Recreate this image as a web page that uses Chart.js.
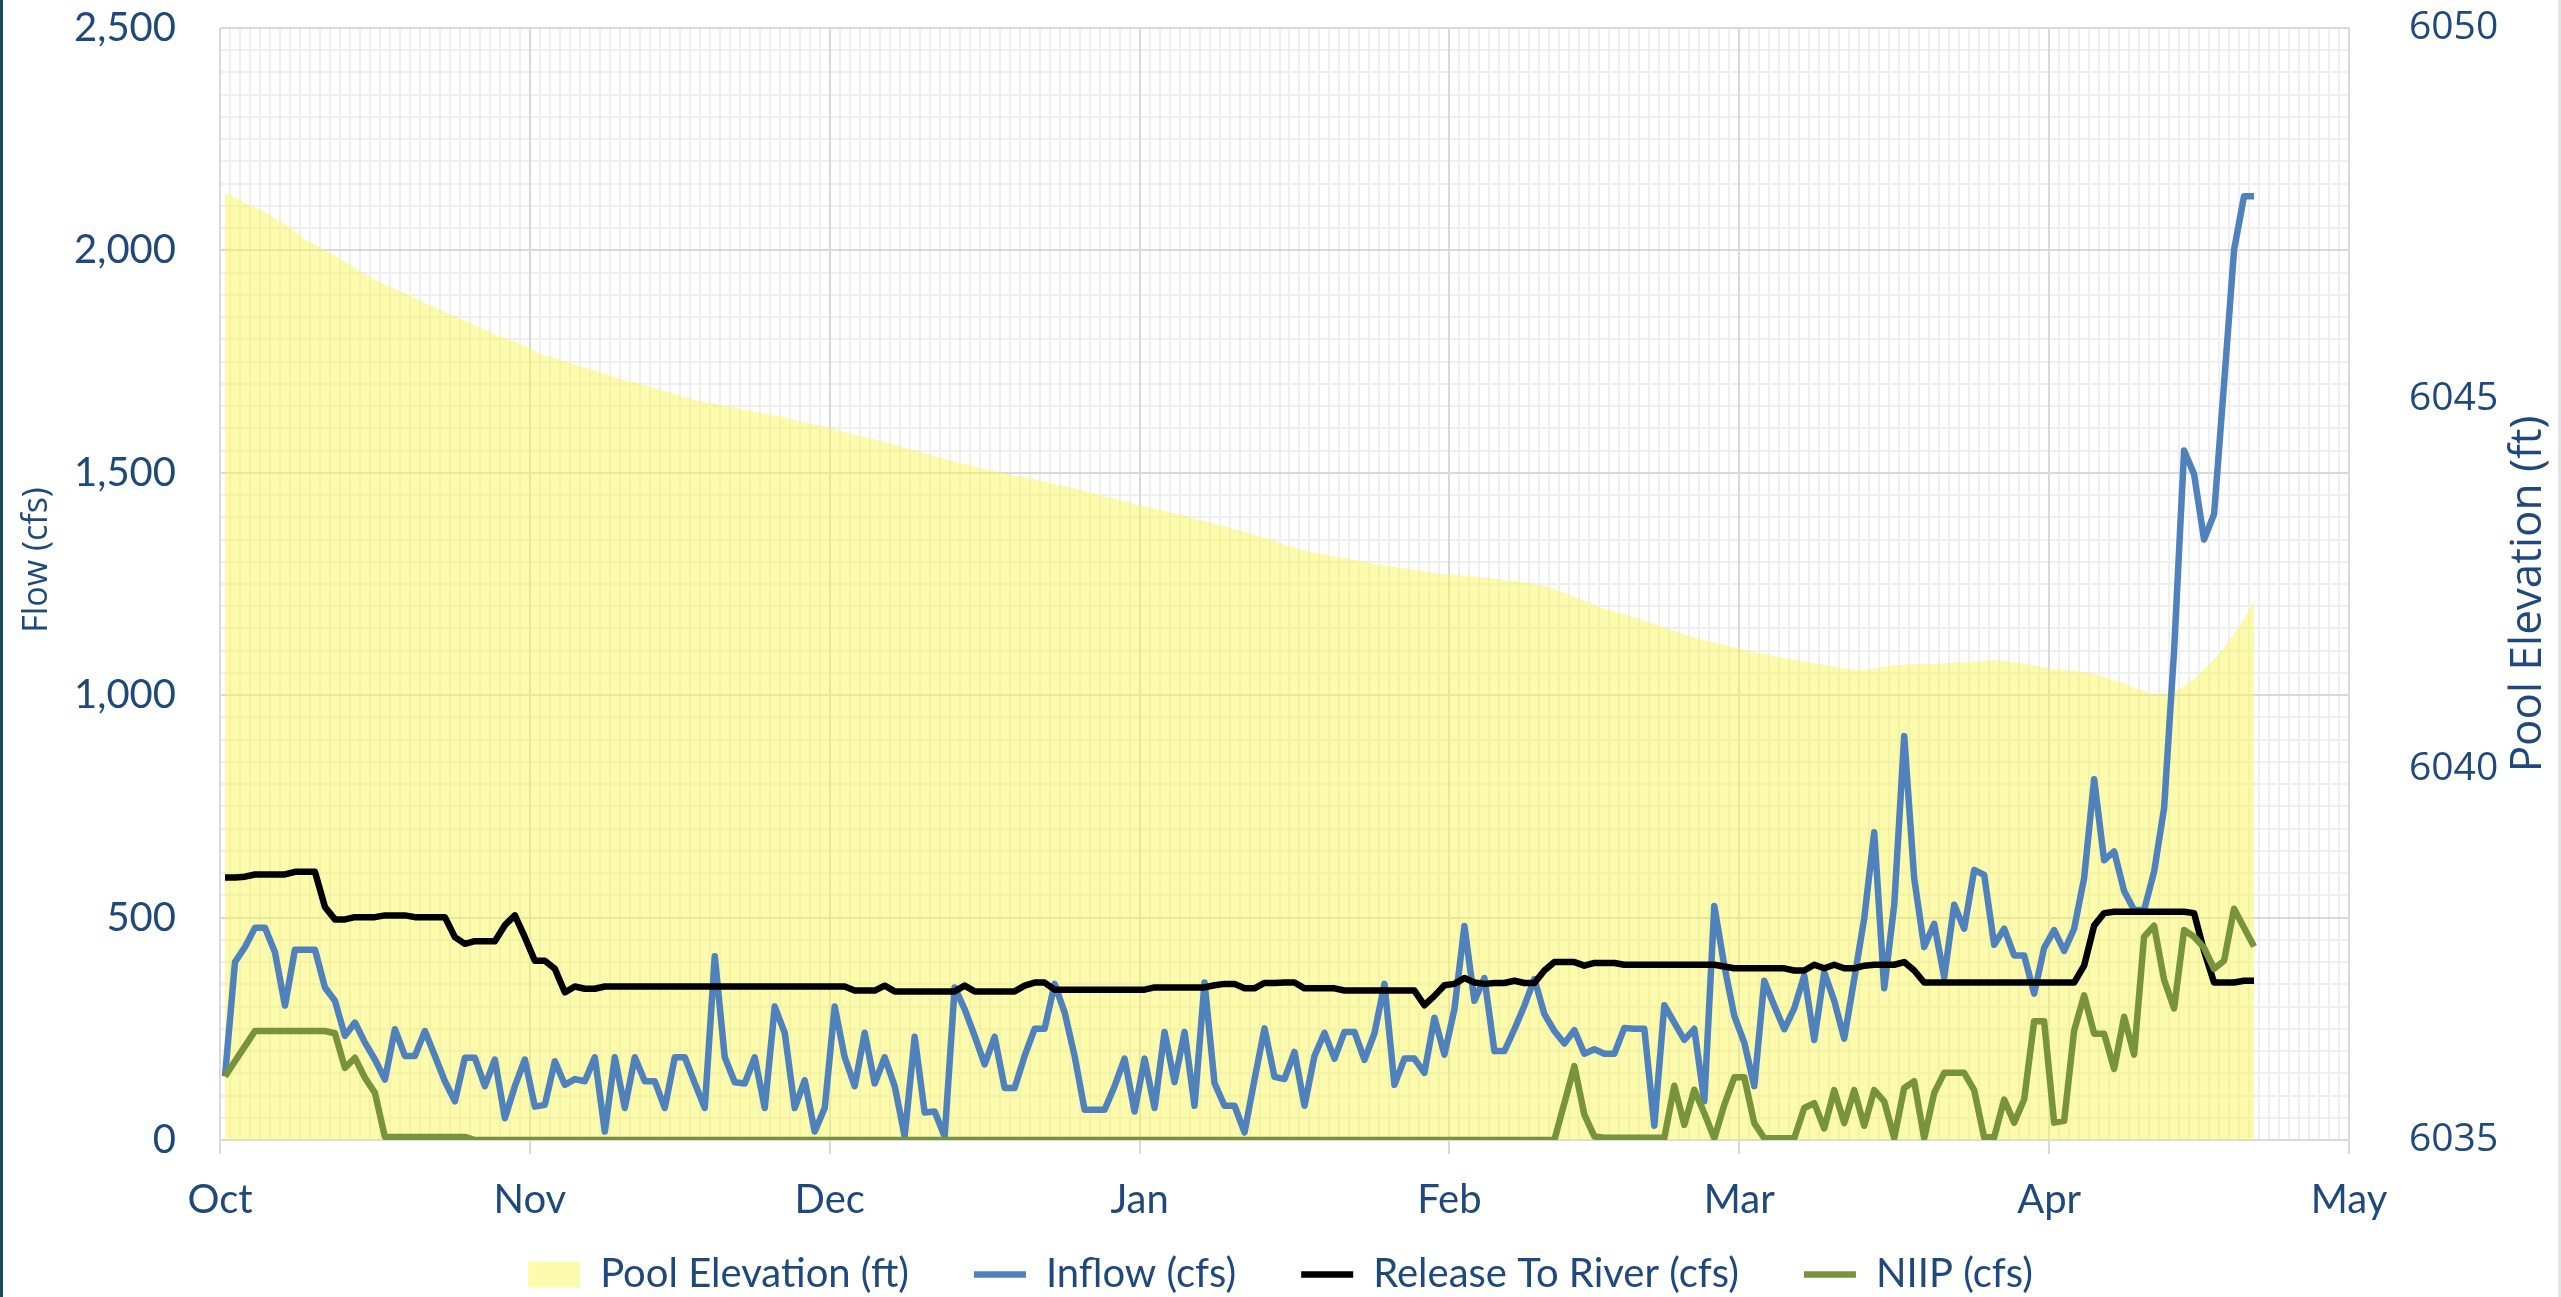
<!DOCTYPE html>
<html>
<head>
<meta charset="utf-8">
<script src="https://cdn.jsdelivr.net/npm/chart.js@4.4.1/dist/chart.umd.min.js"></script>
<style>
html,body{margin:0;padding:0;background:#ffffff;}
#wrap{position:relative;width:2561px;height:1297px;overflow:hidden;background:#fff;}
#c{position:absolute;left:0;top:0;}
#edgeL{position:absolute;left:0;top:0;width:3px;height:1297px;background:#1d4a5c;}
#edgeR{position:absolute;right:0;top:0;width:3px;height:1297px;background:#e3e3e3;}
</style>
</head>
<body>
<div id="wrap"><canvas id="c" width="2561" height="1297"></canvas><div id="edgeL"></div><div id="edgeR"></div></div>
<script>
// ---- tick labels / categories ----
const monthLabels = ['Oct', 'Nov', 'Dec', 'Jan', 'Feb', 'Mar', 'Apr', 'May'];
const monthStartDays = [0, 31, 61, 92, 123, 152, 183, 213];   // days after Oct 1 (2023-24 season, leap Feb)
const flowTicks = [0, 500, 1000, 1500, 2000, 2500];
const elevTicks = [6035, 6040, 6045, 6050];
const axisTitles = {left: 'Flow (cfs)', right: 'Pool Elevation (ft)'};

// ---- daily series, Oct 1 .. Apr 21 ----
const poolElevation = [
6047.77,6047.71,6047.64,6047.57,6047.52,6047.43,6047.35,6047.25,6047.15,6047.08,
6047.00,6046.93,6046.85,6046.76,6046.68,6046.60,6046.54,6046.48,6046.42,6046.36,
6046.29,6046.23,6046.17,6046.11,6046.05,6045.99,6045.93,6045.87,6045.82,6045.76,
6045.71,6045.64,6045.58,6045.55,6045.50,6045.46,6045.42,6045.38,6045.34,6045.29,
6045.25,6045.22,6045.18,6045.14,6045.10,6045.06,6045.02,6044.98,6044.95,6044.93,
6044.90,6044.88,6044.85,6044.82,6044.80,6044.77,6044.75,6044.71,6044.68,6044.65,
6044.62,6044.58,6044.55,6044.51,6044.48,6044.45,6044.41,6044.38,6044.34,6044.30,
6044.26,6044.22,6044.19,6044.15,6044.12,6044.08,6044.05,6044.02,6043.99,6043.96,
6043.94,6043.91,6043.88,6043.85,6043.82,6043.79,6043.75,6043.72,6043.68,6043.65,
6043.62,6043.58,6043.55,6043.52,6043.48,6043.45,6043.42,6043.38,6043.35,6043.31,
6043.28,6043.24,6043.20,6043.16,6043.12,6043.08,6043.03,6042.99,6042.95,6042.92,
6042.90,6042.87,6042.85,6042.82,6042.80,6042.77,6042.75,6042.73,6042.71,6042.69,
6042.67,6042.65,6042.63,6042.62,6042.61,6042.60,6042.58,6042.57,6042.55,6042.54,
6042.52,6042.50,6042.47,6042.43,6042.38,6042.32,6042.27,6042.22,6042.17,6042.13,
6042.09,6042.05,6042.00,6041.96,6041.91,6041.87,6041.82,6041.78,6041.74,6041.71,
6041.68,6041.64,6041.61,6041.58,6041.56,6041.53,6041.50,6041.48,6041.45,6041.43,
6041.41,6041.38,6041.36,6041.34,6041.34,6041.36,6041.38,6041.40,6041.41,6041.42,
6041.42,6041.42,6041.43,6041.44,6041.44,6041.45,6041.46,6041.47,6041.46,6041.44,
6041.42,6041.40,6041.37,6041.35,6041.34,6041.33,6041.31,6041.29,6041.25,6041.20,
6041.16,6041.10,6041.05,6041.01,6041.02,6041.05,6041.12,6041.22,6041.35,6041.48,
6041.64,6041.82,6042.03,6042.25
];
const inflow = [
143,400,434,477,477,422,302,428,428,428,
343,313,234,264,219,181,136,249,189,189,
245,189,132,87,185,185,121,181,49,121,
181,75,79,177,124,137,132,186,19,186,
72,186,132,132,72,186,186,128,72,413,
186,130,127,186,72,300,241,72,134,19,
72,300,186,121,241,127,186,121,9,232,
62,64,8,343,294,234,170,232,117,117,
189,250,250,351,287,189,68,68,68,121,
183,64,183,72,243,130,243,77,354,128,
77,77,17,136,251,142,137,198,77,189,
241,183,243,243,180,240,351,124,183,183,
151,275,192,294,481,313,364,200,200,249,
302,362,283,245,217,247,194,204,194,194,
252,250,250,32,303,264,225,250,87,526,
392,279,219,121,358,302,249,296,370,225,
377,313,228,362,498,692,341,528,908,588,
434,486,366,529,475,607,596,439,475,415,
415,329,432,472,425,475,589,811,629,649,
560,517,517,603,746,1100,1550,1497,1350,1407,
1700,2001,2122,2122
];
const releaseToRiver = [
590,590,592,597,597,597,597,603,603,603,
524,496,496,501,501,501,505,505,505,501,
501,501,501,456,441,447,447,447,483,505,
456,403,403,385,332,345,340,340,345,345,
345,345,345,345,345,345,345,345,345,345,
345,345,345,345,345,345,345,345,345,345,
345,345,345,336,336,336,347,334,334,334,
334,334,334,334,347,334,334,334,334,334,
347,354,354,338,338,338,338,338,338,338,
338,338,338,343,343,343,343,343,343,348,
351,351,341,341,353,353,354,354,341,341,
341,341,336,336,336,336,336,336,336,336,
303,324,348,351,364,354,351,353,353,358,
353,353,381,400,400,400,392,398,398,398,
394,394,394,394,394,394,394,394,394,394,
390,386,386,386,386,386,386,381,381,394,
386,394,386,386,392,394,394,394,400,381,
354,354,354,354,354,354,354,354,354,354,
354,354,354,354,354,354,392,482,510,513,
513,513,513,513,513,513,513,510,425,354,
354,354,358,358
];
const niip = [
143,177,211,245,245,245,245,245,245,245,
245,240,162,185,140,106,7,7,7,7,
7,7,7,7,7,0,0,0,0,0,
0,0,0,0,0,0,0,0,0,0,
0,0,0,0,0,0,0,0,0,0,
0,0,0,0,0,0,0,0,0,0,
0,0,0,0,0,0,0,0,0,0,
0,0,0,0,0,0,0,0,0,0,
0,0,0,0,0,0,0,0,0,0,
0,0,0,0,0,0,0,0,0,0,
0,0,0,0,0,0,0,0,0,0,
0,0,0,0,0,0,0,0,0,0,
0,0,0,0,0,0,0,0,0,0,
0,0,0,0,83,166,57,8,5,5,
5,5,5,5,5,122,34,113,60,4,
79,141,141,38,4,4,4,4,72,83,
26,112,38,112,32,112,87,4,117,132,
4,106,151,151,151,112,6,6,91,39,
91,267,267,39,43,246,325,239,239,160,
277,192,457,482,360,296,472,457,432,385,
403,520,477,435
];

const NAVY = '#1F497D';
const toPts = arr => arr.map((v, i) => ({x: i + 0.5, y: v}));  // day-centred points (date axis "between tick marks")

// Axis titles, both reading bottom-to-top as in the original
const axisTitlePlugin = {
  id: 'axisTitles',
  afterDraw(chart) {
    const ctx = chart.ctx;
    const draw = (text, x, y, font) => {
      ctx.save();
      ctx.translate(x, y);
      ctx.rotate(-Math.PI / 2);
      ctx.font = font;
      ctx.fillStyle = NAVY;
      ctx.textAlign = 'center';
      ctx.textBaseline = 'middle';
      ctx.fillText(text, 0, 0);
      ctx.restore();
    };
    draw(axisTitles.left, 37, 560, '34px "Open Sans"');
    draw(axisTitles.right, 2528, 594, '44px "Open Sans"');
  }
};

const noEdgePad = s => { s.paddingTop = 0; s.paddingBottom = 0; };

function build() {
  Chart.defaults.font.family = 'Lato';
  const ctx = document.getElementById('c').getContext('2d');
  new Chart(ctx, {
    type: 'line',
    data: {
      datasets: [
        {label: 'Pool Elevation (ft)', data: toPts(poolElevation), yAxisID: 'y2', xAxisID: 'x',
         fill: 'start', backgroundColor: 'rgba(250,246,90,0.5)', borderWidth: 0, borderColor: 'rgba(0,0,0,0)',
         pointRadius: 0, pointStyle: 'rect', tension: 0, order: 4},
        {label: 'Inflow (cfs)', data: toPts(inflow), yAxisID: 'y', xAxisID: 'x', fill: false,
         borderColor: '#4F81BD', backgroundColor: '#4F81BD', borderWidth: 6.5, pointRadius: 0,
         pointStyle: 'line', tension: 0, order: 3, borderJoinStyle: 'round'},
        {label: 'Release To River (cfs)', data: toPts(releaseToRiver), yAxisID: 'y', xAxisID: 'x', fill: false,
         borderColor: '#000000', backgroundColor: '#000000', borderWidth: 6.5, pointRadius: 0,
         pointStyle: 'line', tension: 0, order: 2, borderJoinStyle: 'round'},
        {label: 'NIIP (cfs)', data: toPts(niip), yAxisID: 'y', xAxisID: 'x', fill: false,
         borderColor: '#77933C', backgroundColor: '#77933C', borderWidth: 6.5, pointRadius: 0,
         pointStyle: 'line', tension: 0, order: 1, borderJoinStyle: 'round'}
      ]
    },
    options: {
      responsive: false, animation: false, devicePixelRatio: 1,
      layout: {padding: {top: 28, left: 0, right: 0, bottom: 0}},
      events: [],
      plugins: {
        tooltip: {enabled: false},
        legend: {
          position: 'bottom', align: 'center', maxHeight: 107.5,
          labels: {
            usePointStyle: true, pointStyleWidth: 52, boxHeight: 26, padding: 65,
            font: {family: 'Lato', size: 40}, color: NAVY,
            sort: (a, b) => a.datasetIndex - b.datasetIndex
          }
        }
      },
      scales: {
        xMinor: {
          type: 'linear', position: 'bottom', min: 0, max: 213, z: -2,
          afterBuildTicks: s => { const t = []; for (let d = 0; d <= 213; d++) t.push({value: d}); s.ticks = t; },
          ticks: {display: false}, border: {display: false},
          grid: {color: '#EFEFEF', lineWidth: 2, drawTicks: false},
          afterFit: s => { s.height = 0; s.paddingLeft = 0; s.paddingRight = 0; }
        },
        yMinor: {
          type: 'linear', position: 'left', min: 0, max: 2500, z: -2,
          afterBuildTicks: s => { const t = []; for (let v = 0; v <= 2500; v += 50) t.push({value: v}); s.ticks = t; },
          ticks: {display: false}, border: {display: false},
          grid: {color: '#EFEFEF', lineWidth: 2, drawTicks: false},
          afterFit: s => { s.width = 0; noEdgePad(s); }
        },
        x: {
          type: 'linear', position: 'bottom', min: 0, max: 213, z: -1,
          afterBuildTicks: s => { s.ticks = monthStartDays.map(v => ({value: v})); },
          ticks: {
            autoSkip: false, maxRotation: 0, padding: 22, color: NAVY,
            font: {family: 'Lato', size: 40},
            callback: (v) => monthLabels[monthStartDays.indexOf(v)]
          },
          grid: {color: '#D9D9D9', lineWidth: 2, drawTicks: true, tickLength: 14, tickColor: '#D9D9D9'},
          border: {display: true, color: '#D9D9D9', width: 2},
          afterFit: s => { s.height = 49.5; s._computeLabelArea = () => null; }
        },
        y: {
          type: 'linear', position: 'left', min: 0, max: 2500, z: -1,
          afterBuildTicks: s => { s.ticks = flowTicks.map(v => ({value: v})); },
          ticks: {padding: 44, color: NAVY, font: {family: 'Lato', size: 40},
                  callback: v => v.toLocaleString('en-US')},
          grid: {color: '#D9D9D9', lineWidth: 2, drawTicks: false},
          border: {display: false},
          afterFit: s => { s.width = 220; noEdgePad(s); }
        },
        y2: {
          type: 'linear', position: 'right', min: 6035, max: 6050,
          afterBuildTicks: s => { s.ticks = elevTicks.map(v => ({value: v})); },
          ticks: {padding: 60, color: NAVY, font: {family: 'Open Sans', size: 39},
                  callback: v => String(v)},
          grid: {display: false, drawOnChartArea: false, drawTicks: false},
          border: {display: false},
          afterFit: s => { s.width = 212; noEdgePad(s); }
        }
      }
    },
    plugins: [axisTitlePlugin]
  });
}

if (document.fonts && document.fonts.load) {
  Promise.all([document.fonts.load('40px Lato'), document.fonts.load('44px "Open Sans"')])
    .then(build, build);
} else { build(); }
</script>
</body>
</html>
